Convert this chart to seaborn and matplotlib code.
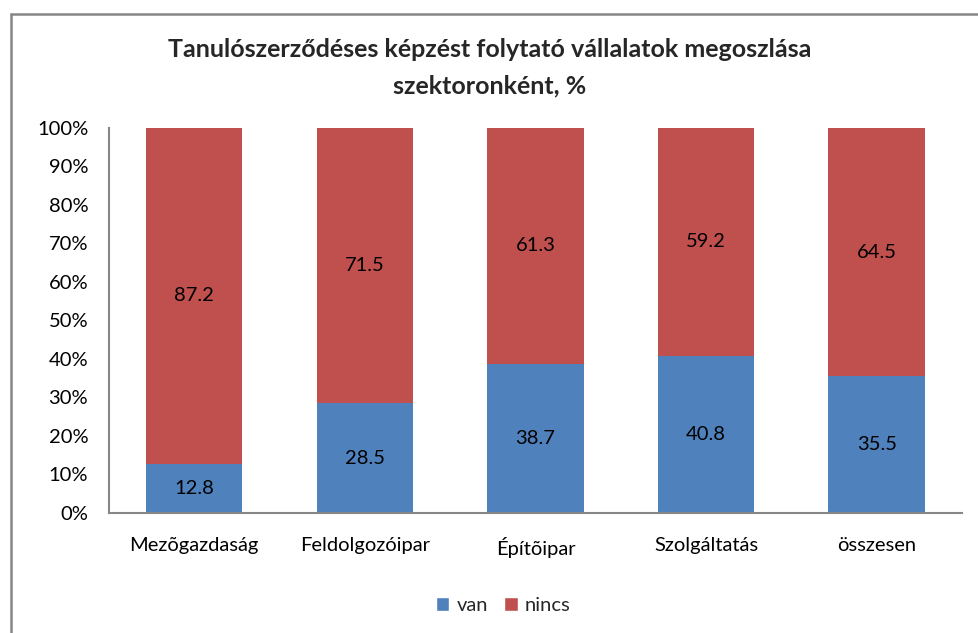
import matplotlib
matplotlib.use("Agg")
import matplotlib.pyplot as plt
from matplotlib.lines import Line2D
from matplotlib.patches import Patch
import seaborn as sns
import pandas as pd

sectors = ["Mezõgazdaság", "Feldolgozóipar", "Építõipar", "Szolgáltatás", "összesen"]
van = [12.8, 28.5, 38.7, 40.8, 35.5]
nincs = [87.2, 71.5, 61.3, 59.2, 64.5]
y_ticks = [0, 10, 20, 30, 40, 50, 60, 70, 80, 90, 100]
title = "Tanulószerződéses képzést folytató vállalatok megoszlása\nszektoronként, %"

blue = "#4F81BD"
red = "#C0504D"
axis_gray = "#868686"
fs = 14.5

sns.set_theme(style="white")
plt.rcParams["font.family"] = ["Lato", "DejaVu Sans"]

df = pd.DataFrame({"sector": sectors, "van": van, "nincs": nincs})
df["total"] = df["van"] + df["nincs"]

fig = plt.figure(figsize=(9.79, 6.33), dpi=100)
ax = fig.add_axes([0.1113, 0.1896, 0.8713, 0.6082])

# stacked 100% bars: full height in red, the "van" share in blue at the bottom
sns.barplot(data=df, x="sector", y="total", color=red, width=0.565,
            saturation=1, ax=ax, edgecolor="none")
sns.barplot(data=df, x="sector", y="van", color=blue, width=0.565,
            saturation=1, ax=ax, edgecolor="none")

bars_total = ax.containers[0]
bars_van = ax.containers[1]
ax.bar_label(bars_van, labels=[f"{v:.1f}" for v in van], label_type="center",
             fontsize=fs, color="black")
# labels for the red segments, centred within the upper part
for rect, v_low, v_up in zip(bars_total, van, nincs):
    cx = rect.get_x() + rect.get_width() / 2
    ax.text(cx, v_low + v_up / 2, f"{v_up:.1f}", ha="center", va="center",
            fontsize=fs, color="black")

ax.set_ylim(0, 100)
ax.set_xlim(-0.5, len(sectors) - 0.5)
ax.set_yticks(y_ticks)
ax.set_yticklabels([f"{t}%" for t in y_ticks], fontsize=fs)
ax.set_xticklabels(sectors, fontsize=fs)
ax.tick_params(axis="both", length=0, colors="black")
ax.tick_params(axis="y", pad=15)
ax.tick_params(axis="x", pad=17)
ax.set_xlabel("")
ax.set_ylabel("")
for s in ["top", "right"]:
    ax.spines[s].set_visible(False)
for s in ["left", "bottom"]:
    ax.spines[s].set_color(axis_gray)
    ax.spines[s].set_linewidth(1.5)

fig.text(0.5, 0.893, title, ha="center", va="center", fontsize=18,
         fontweight="bold", linespacing=1.72)

handles = [Patch(facecolor=blue, label="van"), Patch(facecolor=red, label="nincs")]
fig.legend(handles=handles, loc="center", bbox_to_anchor=(0.514, 0.044), ncol=2,
           frameon=False, fontsize=fs, handlelength=0.68, handleheight=0.68,
           handletextpad=0.35, columnspacing=0.8)

# chart area frame
fig.add_artist(Line2D([11 / 979, 11 / 979], [0, 1 - 14 / 633], color=axis_gray,
                      linewidth=1.8, transform=fig.transFigure))
fig.add_artist(Line2D([11 / 979, 1], [1 - 14 / 633, 1 - 14 / 633], color=axis_gray,
                      linewidth=1.8, transform=fig.transFigure))

fig.savefig("out.png", dpi=100)
